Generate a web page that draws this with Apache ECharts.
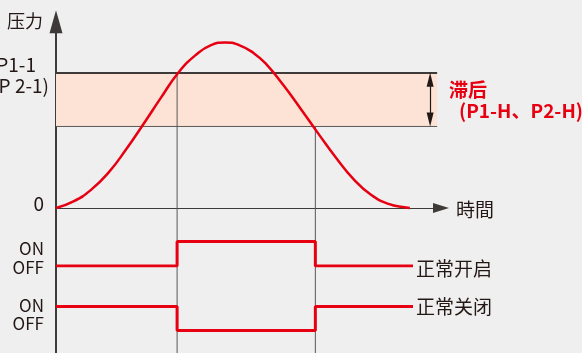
<!DOCTYPE html>
<html>
<head>
<meta charset="utf-8">
<script src="https://cdn.jsdelivr.net/npm/echarts@6/dist/echarts.min.js"></script>
<style>
html, body { margin: 0; padding: 0; background: #efefef; }
#chart { width: 582px; height: 353px; }
</style>
</head>
<body>
<div id="chart"></div>
<script>
// pressure curve (time 0..110, pressure 0..113)
const curveTime = [0, 5, 10, 15, 20, 25, 30, 35, 40, 44.3, 48.3, 52.3, 56.5, 60, 65, 70, 75, 80, 85, 90, 95, 100, 101.1]
const curvePressure = [0, 4, 11, 21.5, 35.5, 51, 67, 82.3, 93, 98.9, 100.5, 98.9, 94, 87.5, 74.5, 60, 45, 30.5, 17.5, 8, 2.5, 0.3, 0]
// set point (P1-1) and reset point (set point minus hysteresis)
const setPoint = 82
const resetPoint = 49.5
const switchTimes = [34.6, 74.1]
const signalEnd = 102
const openStates = [0, 1, 0]   // 正常开启
const closedStates = [1, 0, 1] // 正常关闭

const INK = '#231815'
const LINE = '#3e3a39'
const GREY = '#595757'
const RED = '#e60012'
const FONT = '"Noto Sans CJK SC"'

function steps(states) {
    const pts = [[0, states[0]]]
    switchTimes.forEach((t, i) => {
        pts.push([t, states[i]])
        pts.push([t, states[i + 1]])
    })
    pts.push([signalEnd, states[states.length - 1]])
    return pts
}

function txt(text, x, y, opts) {
    opts = opts || {}
    return {
        type: 'text', x: x, y: y, silent: true,
        style: {
            text: text,
            font: (opts.weight || 'normal') + ' ' + (opts.size || 19) + 'px ' + FONT,
            fill: opts.color || INK,
            textAlign: opts.align || 'left',
            textVerticalAlign: 'middle'
        }
    }
}

const hidden = { show: false }
const bareY = (min, max, i) => ({
    type: 'value', gridIndex: i, min: min, max: max,
    axisLine: hidden, axisTick: hidden, axisLabel: hidden, splitLine: hidden
})
const bareX = (i) => ({
    type: 'value', gridIndex: i, min: 0, max: 110,
    axisLine: hidden, axisTick: hidden, axisLabel: hidden, splitLine: hidden
})

const chart = echarts.init(document.getElementById('chart'))

// arrow heads are centred on the line ends, so pull the ends in by half a head
const headInset = 4.2

const option = {
    backgroundColor: '#efefef',
    animation: false,
    grid: [
        { left: 56, top: 21.85, width: 385, height: 331.65 },
        { left: 56, top: 241.5, width: 385, height: 24.5 },
        { left: 56, top: 306.5, width: 385, height: 24 }
    ],
    xAxis: [
        {
            type: 'value', gridIndex: 0, min: 0, max: 110,
            axisLine: {
                onZero: true, symbol: ['none', 'triangle'], symbolSize: [10, 16],
                lineStyle: { color: LINE, width: 1 }
            },
            axisTick: hidden, axisLabel: hidden, splitLine: hidden
        },
        bareX(1),
        bareX(2)
    ],
    yAxis: [
        {
            type: 'value', gridIndex: 0, min: -88, max: 113,
            axisLine: {
                onZero: true, symbol: ['none', 'triangle'], symbolSize: [13, 23],
                lineStyle: { color: LINE, width: 2 }
            },
            axisTick: hidden, axisLabel: hidden, splitLine: hidden
        },
        bareY(0, 1, 1),
        bareY(0, 1, 2)
    ],
    series: [
        {
            name: 'band', type: 'line', data: [], z: 1, silent: true,
            markArea: {
                silent: true,
                itemStyle: { color: '#fde3d6' },
                data: [[{ coord: [0, resetPoint] }, { coord: [108.9, setPoint] }]]
            }
        },
        {
            name: 'set', type: 'line', clip: false, symbol: 'none', z: 3, silent: true,
            lineStyle: { color: LINE, width: 2 },
            data: [[-1.7, setPoint], [108.9, setPoint]]
        },
        {
            name: 'reset', type: 'line', clip: false, symbol: 'none', z: 3, silent: true,
            lineStyle: { color: GREY, width: 1 },
            data: [[0, resetPoint], [108.9, resetPoint]]
        },
        {
            name: 'on', type: 'line', symbol: 'none', z: 2, silent: true,
            lineStyle: { color: GREY, width: 1 },
            data: [[switchTimes[0], setPoint], [switchTimes[0], -88]]
        },
        {
            name: 'off', type: 'line', symbol: 'none', z: 2, silent: true,
            lineStyle: { color: GREY, width: 1 },
            data: [[switchTimes[1], resetPoint], [switchTimes[1], -88]]
        },
        {
            name: 'hys', type: 'line', data: [], z: 4, silent: true,
            markLine: {
                silent: true,
                symbol: ['triangle', 'triangle'],
                symbolSize: [7, 14],
                label: { show: false },
                lineStyle: { color: INK, width: 1.2, type: 'solid' },
                data: [[{ coord: [106.9, setPoint - headInset] }, { coord: [106.9, resetPoint + headInset] }]]
            }
        },
        {
            name: '压力', type: 'line', symbol: 'none', smooth: 0.5, z: 5, silent: true,
            lineStyle: { color: RED, width: 2.5 },
            data: curveTime.map((t, i) => [t, curvePressure[i]])
        },
        {
            name: '正常开启', type: 'line', xAxisIndex: 1, yAxisIndex: 1, symbol: 'none', z: 5, silent: true,
            lineStyle: { color: RED, width: 3 },
            data: steps(openStates)
        },
        {
            name: '正常关闭', type: 'line', xAxisIndex: 2, yAxisIndex: 2, symbol: 'none', z: 5, silent: true,
            lineStyle: { color: RED, width: 3 },
            data: steps(closedStates)
        }
    ],
    graphic: [
        txt('压力', 7, 21, { size: 18 }),
        txt('P1-1', 36, 65, { align: 'right' }),
        txt('P 2-1)', 49, 86, { align: 'right' }),
        txt('0', 44, 204, { align: 'right' }),
        txt('ON', 44, 249, { align: 'right', size: 17 }),
        txt('OFF', 44, 268, { align: 'right', size: 17 }),
        txt('ON', 44, 306, { align: 'right', size: 17 }),
        txt('OFF', 44, 324, { align: 'right', size: 17 }),
        txt('時間', 456, 210),
        txt('正常开启', 416, 268.5),
        txt('正常关闭', 416, 306.5),
        txt('滞后', 449, 89.5, { color: RED, weight: 'bold' }),
        txt('(P1-H、P2-H)', 459, 110.5, { color: RED, weight: 'bold' })
    ]
}

chart.setOption(option)
</script>
</body>
</html>
